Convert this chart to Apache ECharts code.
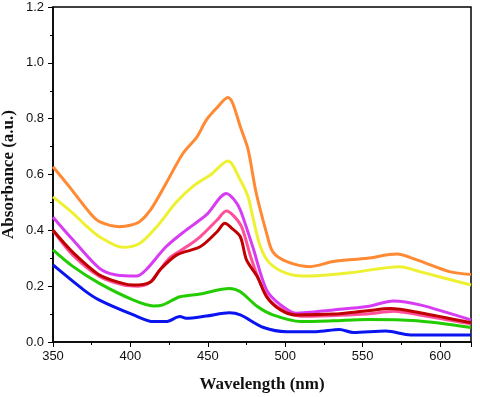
<!DOCTYPE html>
<html><head><meta charset="utf-8">
<script src="https://cdn.jsdelivr.net/npm/echarts@6/dist/echarts.min.js"></script>
<style>html,body{margin:0;padding:0;background:#fff}#c{width:480px;height:397px}</style>
</head><body><div id="c"></div>
<script>
const xTicks = [350, 400, 450, 500, 550, 600];
const yTicks = [0.0, 0.2, 0.4, 0.6, 0.8, 1.0, 1.2];
const orange = [[350,0.628],[360,0.56],[374,0.461],[380,0.431],[393,0.413],[400,0.418],[406,0.431],[413,0.473],[423,0.568],[434,0.676],[443,0.735],[449,0.795],[456,0.84],[463,0.876],[466,0.856],[471,0.771],[476,0.69],[481,0.54],[488,0.389],[492,0.323],[501,0.288],[516,0.27],[531,0.288],[553,0.30],[572,0.315],[585,0.294],[606,0.252],[620,0.242]];
const yellow = [[350,0.52],[363,0.461],[372,0.413],[380,0.377],[395,0.339],[406,0.353],[417,0.413],[430,0.503],[441,0.56],[452,0.6],[463,0.648],[471,0.58],[476,0.52],[479,0.449],[484,0.341],[490,0.282],[501,0.246],[514,0.236],[542,0.248],[574,0.27],[587,0.252],[620,0.204]];
const magenta = [[350,0.447],[363,0.365],[380,0.264],[391,0.24],[404,0.236],[410,0.258],[423,0.341],[436,0.401],[449,0.455],[462,0.532],[467,0.51],[471,0.473],[479,0.341],[488,0.186],[497,0.133],[507,0.103],[531,0.115],[553,0.127],[570,0.147],[587,0.133],[620,0.079]];
const pink = [[350,0.40],[363,0.31],[380,0.235],[395,0.205],[405,0.2],[413,0.215],[425,0.3],[436,0.34],[445,0.377],[456,0.437],[462,0.469],[467,0.45],[472,0.41],[478,0.3],[484,0.21],[490,0.15],[500,0.11],[510,0.092],[531,0.095],[553,0.1],[570,0.11],[587,0.097],[620,0.065]];
const red = [[350,0.40],[363,0.32],[380,0.24],[395,0.21],[402,0.204],[413,0.215],[419,0.258],[430,0.312],[445,0.341],[456,0.395],[461,0.425],[465,0.41],[471,0.377],[475,0.294],[482,0.234],[488,0.162],[497,0.115],[507,0.097],[531,0.1],[553,0.112],[568,0.12],[587,0.105],[620,0.069]];
const green = [[350,0.33],[363,0.27],[380,0.21],[402,0.15],[415,0.129],[421,0.133],[432,0.162],[445,0.172],[464,0.192],[471,0.18],[482,0.127],[492,0.097],[510,0.073],[531,0.076],[553,0.081],[585,0.076],[620,0.052]];
const blue = [[350,0.276],[370,0.186],[380,0.15],[402,0.097],[415,0.073],[423,0.073],[432,0.091],[436,0.085],[449,0.093],[464,0.105],[471,0.097],[486,0.052],[501,0.037],[520,0.037],[535,0.045],[544,0.034],[565,0.039],[581,0.025],[620,0.025]];

const seriesList = [
  {d: orange, c: '#FF8A33'},
  {d: yellow, c: '#EEF032'},
  {d: magenta, c: '#D83CF2'},
  {d: pink, c: '#FF4F9A'},
  {d: red, c: '#C00000'},
  {d: green, c: '#22CC00'},
  {d: blue, c: '#0A14F0'}
];
const chart = echarts.init(document.getElementById('c'), null, {renderer: 'canvas'});
const axisCommon = {
  axisLine: {show: true, onZero: false, lineStyle: {color: '#000', width: 1.5}},
  axisTick: {show: true, inside: false, length: 5, lineStyle: {color: '#000', width: 1}},
  minorTick: {show: true, splitNumber: 2, length: 3, lineStyle: {color: '#000', width: 1}},
  splitLine: {show: false},
  axisLabel: {color: '#111', fontFamily: 'Liberation Sans', fontSize: 13, margin: 8, showMaxLabel: false}
};
chart.setOption({
  animation: false,
  grid: {left: 53, right: 9, top: 7, bottom: 55, containLabel: false, outerBoundsMode: 'none', show: true, borderColor: '#000', borderWidth: 1.5, backgroundColor: 'transparent'},
  xAxis: Object.assign({}, axisCommon, {
    type: 'value', min: xTicks[0], max: 620, interval: 50,
    name: 'Wavelength (nm)', nameLocation: 'middle', nameGap: 34, nameMoveOverlap: false,
    nameTextStyle: {fontFamily: 'Liberation Serif', fontWeight: 'bold', fontSize: 17, color: '#111'},
    axisLabel: Object.assign({}, axisCommon.axisLabel, {showMaxLabel: false})
  }),
  yAxis: Object.assign({}, axisCommon, {
    type: 'value', min: yTicks[0], max: yTicks[yTicks.length-1], interval: 0.2,
    name: 'Absorbance (a.u.)', nameLocation: 'middle', nameGap: 36, nameMoveOverlap: false,
    nameTextStyle: {fontFamily: 'Liberation Serif', fontWeight: 'bold', fontSize: 17, color: '#111'},
    axisLabel: Object.assign({}, axisCommon.axisLabel, {margin: 9, showMaxLabel: true, formatter: v => v.toFixed(1)})
  }),
  series: seriesList.map(s => ({
    type: 'line', data: s.d, showSymbol: false, smooth: 0.3,
    lineStyle: {color: s.c, width: 3}, itemStyle: {color: s.c}
  }))
});
</script></body></html>
